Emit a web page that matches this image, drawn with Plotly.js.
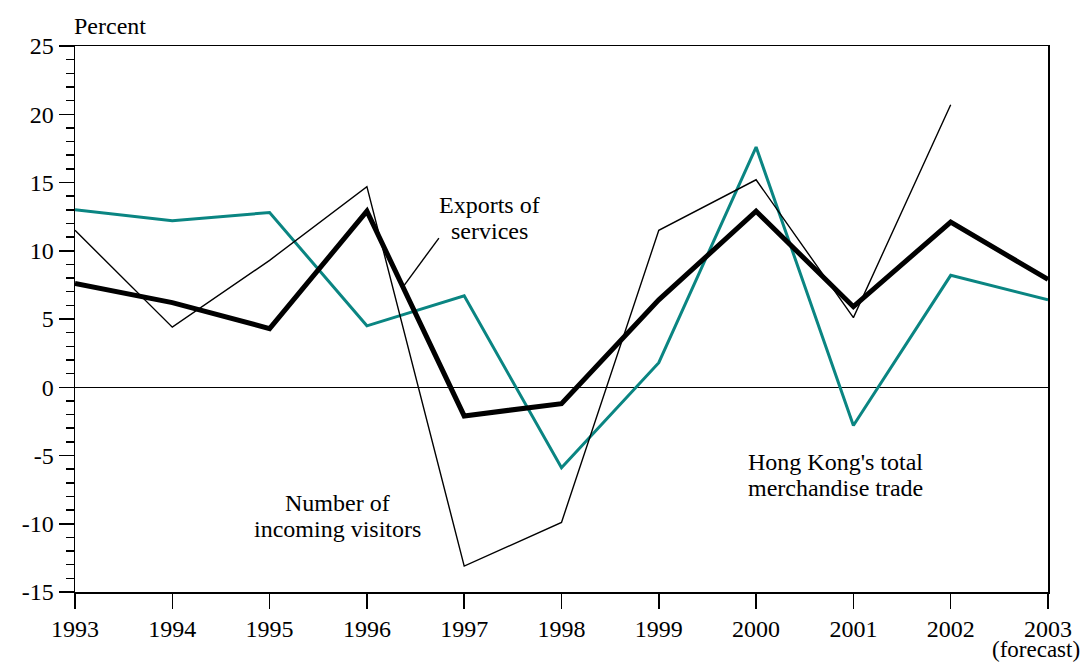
<!DOCTYPE html>
<html>
<head>
<meta charset="utf-8">
<script src="https://cdn.plot.ly/plotly-3.0.1.min.js"></script>
<style>html,body{margin:0;padding:0;background:#fff;}#chart{width:1090px;height:663px;}</style>
</head>
<body>
<div id="chart"></div>
<script>
const years = [1993, 1994, 1995, 1996, 1997, 1998, 1999, 2000, 2001, 2002, 2003];
const xTickLabels = ["1993","1994","1995","1996","1997","1998","1999","2000","2001","2002","2003"];
const yTickValues = [-15, -10, -5, 0, 5, 10, 15, 20, 25];
const yTickLabels = ["-15", "-10", "-5", "0", "5", "10", "15", "20", "25"];
const merchandiseTrade = [13.0, 12.2, 12.8, 4.5, 6.7, -5.9, 1.8, 17.6, -2.8, 8.2, 6.4];
const exportsOfServices = [7.6, 6.2, 4.3, 12.9, -2.1, -1.2, 6.4, 12.9, 5.9, 12.1, 7.9];
const incomingVisitors = [11.5, 4.4, 9.3, 14.7, -13.1, -9.9, 11.5, 15.2, 5.1, 20.7];

const FONT = "Liberation Serif";

const traces = [
  {x: years, y: merchandiseTrade, mode: "lines", line: {color: "#0a8582", width: 3}, hoverinfo: "skip"},
  {x: years.slice(0, incomingVisitors.length), y: incomingVisitors, mode: "lines", line: {color: "#000", width: 1.4}, hoverinfo: "skip"},
  {x: years, y: exportsOfServices, mode: "lines", line: {color: "#000", width: 5}, hoverinfo: "skip"}
];

function label(text, x, y, extra) {
  return Object.assign({text: text, x: x, y: y, xref: "x", yref: "y", showarrow: false,
    xanchor: "center", yanchor: "middle", font: {family: FONT, size: 24, color: "#000"}}, extra || {});
}

const layout = {
  width: 1090, height: 663,
  margin: {l: 75, r: 42, t: 46, b: 71, pad: 0},
  paper_bgcolor: "#fff", plot_bgcolor: "#fff",
  showlegend: false,
  font: {family: FONT, size: 24, color: "#000"},
  xaxis: {
    range: [1993, 2003], tickmode: "array", tickvals: years, ticktext: xTickLabels,
    ticks: "outside", ticklen: 15, tickwidth: 1.5, tickcolor: "#000",
    showline: true, linecolor: "#000", linewidth: 1.5, mirror: true,
    showgrid: false, zeroline: false,
    tickfont: {family: FONT, size: 24, color: "#000"}
  },
  yaxis: {
    range: [-15, 25], tickmode: "array", tickvals: yTickValues, ticktext: yTickLabels,
    ticks: "outside", ticklen: 15, tickwidth: 1.5, tickcolor: "#000",
    minor: {tickmode: "linear", tick0: 0, dtick: 1, ticks: "outside", ticklen: 8, tickwidth: 1.5, tickcolor: "#000", showgrid: false},
    showline: true, linecolor: "#000", linewidth: 1.5, mirror: true,
    showgrid: false, zeroline: true, zerolinecolor: "#000", zerolinewidth: 1.2,
    tickfont: {family: FONT, size: 24, color: "#000"}
  },
  shapes: [
    {type: "line", xref: "x", yref: "y", x0: 1996.37, y0: 7.34, x1: 1996.74, y1: 10.93,
     line: {color: "#000", width: 1.4}}
  ],
  annotations: [
    label("Percent", 1993, 25, {xanchor: "left", yshift: 20, xshift: -3}),
    label("Exports of", 1997.265, 13.35),
    label("services", 1997.265, 11.45),
    label("Number of", 1995.693, -8.48),
    label("incoming visitors", 1995.693, -10.38),
    label("Hong Kong's total", 2000.821, -5.48),
    label("merchandise trade", 2000.821, -7.38),
    label("(forecast)", 2002.877, -15, {yshift: -57, font: {family: FONT, size: 23, color: "#000"}})
  ]
};

Plotly.newPlot("chart", traces, layout, {staticPlot: true, displayModeBar: false});
</script>
</body>
</html>
